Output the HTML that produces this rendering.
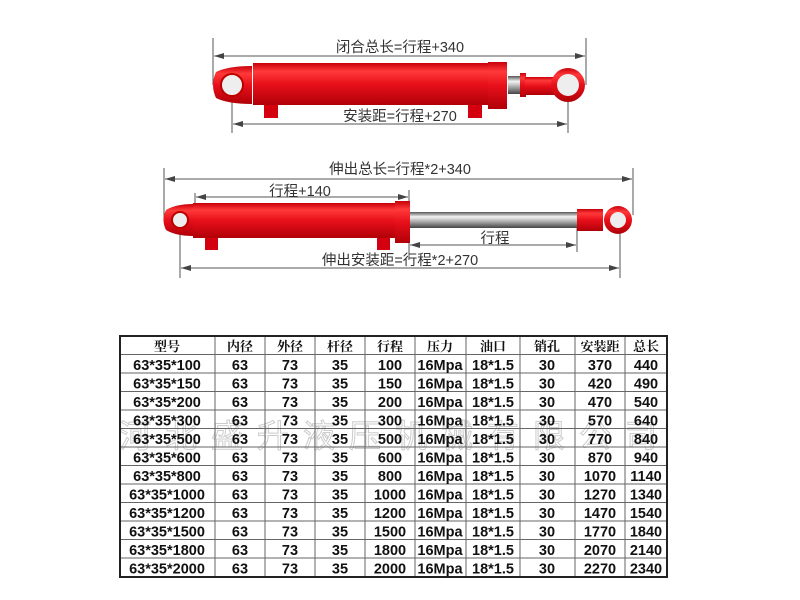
<!DOCTYPE html>
<html><head><meta charset="utf-8"><style>
html,body{margin:0;padding:0;background:#fff;width:800px;height:600px;overflow:hidden}
svg{display:block}
.d{font-family:"Liberation Sans","Noto Sans CJK SC",sans-serif;font-size:14.5px;fill:#333}
.t{font-family:"Liberation Sans","Noto Sans CJK SC",sans-serif;font-size:14.5px;font-weight:bold;fill:#111}
.h{font-family:"Noto Serif CJK SC","Noto Sans CJK SC",serif;font-size:13px;font-weight:bold;fill:#111}
</style></head><body>
<svg width="800" height="600" viewBox="0 0 800 600" xmlns="http://www.w3.org/2000/svg">
<defs>
<linearGradient id="red" x1="0" y1="0" x2="0" y2="1">
<stop offset="0" stop-color="#c8000a"/><stop offset="0.2" stop-color="#ff3a3a"/><stop offset="0.5" stop-color="#e8101a"/><stop offset="1" stop-color="#b00008"/></linearGradient>
<linearGradient id="rod" x1="0" y1="0" x2="0" y2="1">
<stop offset="0" stop-color="#555"/><stop offset="0.3" stop-color="#f4f4f4"/><stop offset="0.6" stop-color="#aaa"/><stop offset="1" stop-color="#444"/></linearGradient>
<marker id="a" markerWidth="10" markerHeight="6" refX="10" refY="3" orient="auto-start-reverse" markerUnits="userSpaceOnUse"><path d="M0,0 L10,3 L0,6 z" fill="#444"/></marker>
</defs>
<g stroke="#555" stroke-width="1" fill="none">
<line x1="213" y1="38" x2="213" y2="85"/><line x1="586" y1="38" x2="586" y2="85"/>
<line x1="214" y1="56" x2="585" y2="56" marker-start="url(#a)" marker-end="url(#a)"/>
<line x1="232" y1="85" x2="232" y2="133"/><line x1="568" y1="85" x2="568" y2="133"/>
<line x1="233" y1="124" x2="567" y2="124" marker-start="url(#a)" marker-end="url(#a)"/>
<line x1="164" y1="168" x2="164" y2="220"/><line x1="633" y1="168" x2="633" y2="215"/>
<line x1="165" y1="179" x2="632" y2="179" marker-start="url(#a)" marker-end="url(#a)"/>
<line x1="195" y1="193" x2="195" y2="205"/><line x1="409" y1="190" x2="409" y2="260"/>
<line x1="196" y1="197" x2="408" y2="197" marker-start="url(#a)" marker-end="url(#a)"/>
<line x1="577" y1="215" x2="577" y2="252"/>
<line x1="410" y1="245" x2="576" y2="245" marker-start="url(#a)" marker-end="url(#a)"/>
<line x1="180" y1="220" x2="180" y2="278"/><line x1="620" y1="220" x2="620" y2="278"/>
<line x1="181" y1="268" x2="619" y2="268" marker-start="url(#a)" marker-end="url(#a)"/>
</g>
<rect x="264" y="100" width="14" height="18" fill="#d40010"/><rect x="468" y="100" width="14" height="18" fill="#d40010"/>
<rect x="508" y="76" width="13" height="18" fill="url(#rod)"/>
<path d="M216,72 Q228,66 252,66 L252,104 Q228,104 216,98 Q210,85 216,72z" fill="url(#red)"/>
<circle cx="232" cy="85" r="11" fill="#eee" stroke="#b00" stroke-width="2"/>
<rect x="253" y="63" width="236" height="42" fill="url(#red)"/>
<rect x="488" y="62" width="19" height="47" fill="url(#red)"/>
<rect x="520" y="73" width="6" height="24" fill="url(#red)"/>
<rect x="525" y="77" width="35" height="18" fill="url(#red)"/>
<circle cx="568" cy="85" r="17" fill="url(#red)"/>
<circle cx="568" cy="85" r="11" fill="#eee"/>
<rect x="205" y="236" width="13" height="14" fill="#d40010"/><rect x="377" y="236" width="13" height="14" fill="#d40010"/>
<path d="M166,210 Q176,204 193,204 L193,236 Q176,236 166,230 Q161,220 166,210z" fill="url(#red)"/>
<circle cx="180" cy="220" r="8" fill="#eee" stroke="#b00" stroke-width="2"/>
<rect x="193" y="203" width="203" height="35" fill="url(#red)"/>
<rect x="395" y="201" width="15" height="42" fill="url(#red)"/>
<rect x="410" y="212" width="167" height="16" fill="url(#rod)"/>
<rect x="577" y="209" width="26" height="22" fill="url(#red)"/>
<circle cx="618" cy="220" r="14" fill="url(#red)"/>
<circle cx="618" cy="220" r="8" fill="#eee"/>
<text class="d" x="400" y="52" text-anchor="middle">闭合总长=行程+340</text>
<text class="d" x="400" y="121" text-anchor="middle">安装距=行程+270</text>
<text class="d" x="400" y="174" text-anchor="middle">伸出总长=行程*2+340</text>
<text class="d" x="300" y="196" text-anchor="middle">行程+140</text>
<text class="d" x="495" y="243" text-anchor="middle">行程</text>
<text class="d" x="400" y="265" text-anchor="middle">伸出安装距=行程*2+270</text>
<text x="395" y="447" text-anchor="middle" style="font-family:'Noto Sans CJK SC',sans-serif;font-size:32px;fill:none;stroke:#ccc;stroke-width:1;letter-spacing:14px">河北盛升液压机械有限公司</text>
<g stroke="#666" stroke-width="1">
<line x1="120" y1="354.5" x2="667" y2="354.5"/><line x1="120" y1="373" x2="667" y2="373"/><line x1="120" y1="391.5" x2="667" y2="391.5"/><line x1="120" y1="410" x2="667" y2="410"/><line x1="120" y1="428.5" x2="667" y2="428.5"/><line x1="120" y1="447" x2="667" y2="447"/><line x1="120" y1="465.5" x2="667" y2="465.5"/><line x1="120" y1="484" x2="667" y2="484"/><line x1="120" y1="502.5" x2="667" y2="502.5"/><line x1="120" y1="521" x2="667" y2="521"/><line x1="120" y1="539.5" x2="667" y2="539.5"/><line x1="120" y1="558" x2="667" y2="558"/>
<line x1="215" y1="336" x2="215" y2="577"/><line x1="265" y1="336" x2="265" y2="577"/><line x1="315" y1="336" x2="315" y2="577"/><line x1="365" y1="336" x2="365" y2="577"/><line x1="415" y1="336" x2="415" y2="577"/><line x1="466" y1="336" x2="466" y2="577"/><line x1="520" y1="336" x2="520" y2="577"/><line x1="575" y1="336" x2="575" y2="577"/><line x1="625" y1="336" x2="625" y2="577"/>
</g>
<rect x="120" y="336" width="547" height="241" fill="none" stroke="#222" stroke-width="2"/>
<g class="h" text-anchor="middle">
<text x="167" y="351">型号</text><text x="240" y="351">内径</text><text x="290" y="351">外径</text><text x="340" y="351">杆径</text><text x="390" y="351">行程</text><text x="440" y="351">压力</text><text x="493" y="351">油口</text><text x="547" y="351">销孔</text><text x="600" y="351">安装距</text><text x="646" y="351">总长</text>
</g>
<g class="t" text-anchor="middle">
<text x="167" y="370">63*35*100</text><text x="240" y="370">63</text><text x="290" y="370">73</text><text x="340" y="370">35</text><text x="390" y="370">100</text><text x="440" y="370">16Mpa</text><text x="493" y="370">18*1.5</text><text x="547" y="370">30</text><text x="600" y="370">370</text><text x="646" y="370">440</text>
<text x="167" y="388.5">63*35*150</text><text x="240" y="388.5">63</text><text x="290" y="388.5">73</text><text x="340" y="388.5">35</text><text x="390" y="388.5">150</text><text x="440" y="388.5">16Mpa</text><text x="493" y="388.5">18*1.5</text><text x="547" y="388.5">30</text><text x="600" y="388.5">420</text><text x="646" y="388.5">490</text>
<text x="167" y="407">63*35*200</text><text x="240" y="407">63</text><text x="290" y="407">73</text><text x="340" y="407">35</text><text x="390" y="407">200</text><text x="440" y="407">16Mpa</text><text x="493" y="407">18*1.5</text><text x="547" y="407">30</text><text x="600" y="407">470</text><text x="646" y="407">540</text>
<text x="167" y="425.5">63*35*300</text><text x="240" y="425.5">63</text><text x="290" y="425.5">73</text><text x="340" y="425.5">35</text><text x="390" y="425.5">300</text><text x="440" y="425.5">16Mpa</text><text x="493" y="425.5">18*1.5</text><text x="547" y="425.5">30</text><text x="600" y="425.5">570</text><text x="646" y="425.5">640</text>
<text x="167" y="444">63*35*500</text><text x="240" y="444">63</text><text x="290" y="444">73</text><text x="340" y="444">35</text><text x="390" y="444">500</text><text x="440" y="444">16Mpa</text><text x="493" y="444">18*1.5</text><text x="547" y="444">30</text><text x="600" y="444">770</text><text x="646" y="444">840</text>
<text x="167" y="462.5">63*35*600</text><text x="240" y="462.5">63</text><text x="290" y="462.5">73</text><text x="340" y="462.5">35</text><text x="390" y="462.5">600</text><text x="440" y="462.5">16Mpa</text><text x="493" y="462.5">18*1.5</text><text x="547" y="462.5">30</text><text x="600" y="462.5">870</text><text x="646" y="462.5">940</text>
<text x="167" y="481">63*35*800</text><text x="240" y="481">63</text><text x="290" y="481">73</text><text x="340" y="481">35</text><text x="390" y="481">800</text><text x="440" y="481">16Mpa</text><text x="493" y="481">18*1.5</text><text x="547" y="481">30</text><text x="600" y="481">1070</text><text x="646" y="481">1140</text>
<text x="167" y="499.5">63*35*1000</text><text x="240" y="499.5">63</text><text x="290" y="499.5">73</text><text x="340" y="499.5">35</text><text x="390" y="499.5">1000</text><text x="440" y="499.5">16Mpa</text><text x="493" y="499.5">18*1.5</text><text x="547" y="499.5">30</text><text x="600" y="499.5">1270</text><text x="646" y="499.5">1340</text>
<text x="167" y="518">63*35*1200</text><text x="240" y="518">63</text><text x="290" y="518">73</text><text x="340" y="518">35</text><text x="390" y="518">1200</text><text x="440" y="518">16Mpa</text><text x="493" y="518">18*1.5</text><text x="547" y="518">30</text><text x="600" y="518">1470</text><text x="646" y="518">1540</text>
<text x="167" y="536.5">63*35*1500</text><text x="240" y="536.5">63</text><text x="290" y="536.5">73</text><text x="340" y="536.5">35</text><text x="390" y="536.5">1500</text><text x="440" y="536.5">16Mpa</text><text x="493" y="536.5">18*1.5</text><text x="547" y="536.5">30</text><text x="600" y="536.5">1770</text><text x="646" y="536.5">1840</text>
<text x="167" y="555">63*35*1800</text><text x="240" y="555">63</text><text x="290" y="555">73</text><text x="340" y="555">35</text><text x="390" y="555">1800</text><text x="440" y="555">16Mpa</text><text x="493" y="555">18*1.5</text><text x="547" y="555">30</text><text x="600" y="555">2070</text><text x="646" y="555">2140</text>
<text x="167" y="573.5">63*35*2000</text><text x="240" y="573.5">63</text><text x="290" y="573.5">73</text><text x="340" y="573.5">35</text><text x="390" y="573.5">2000</text><text x="440" y="573.5">16Mpa</text><text x="493" y="573.5">18*1.5</text><text x="547" y="573.5">30</text><text x="600" y="573.5">2270</text><text x="646" y="573.5">2340</text>
</g>
</svg>
</body></html>
